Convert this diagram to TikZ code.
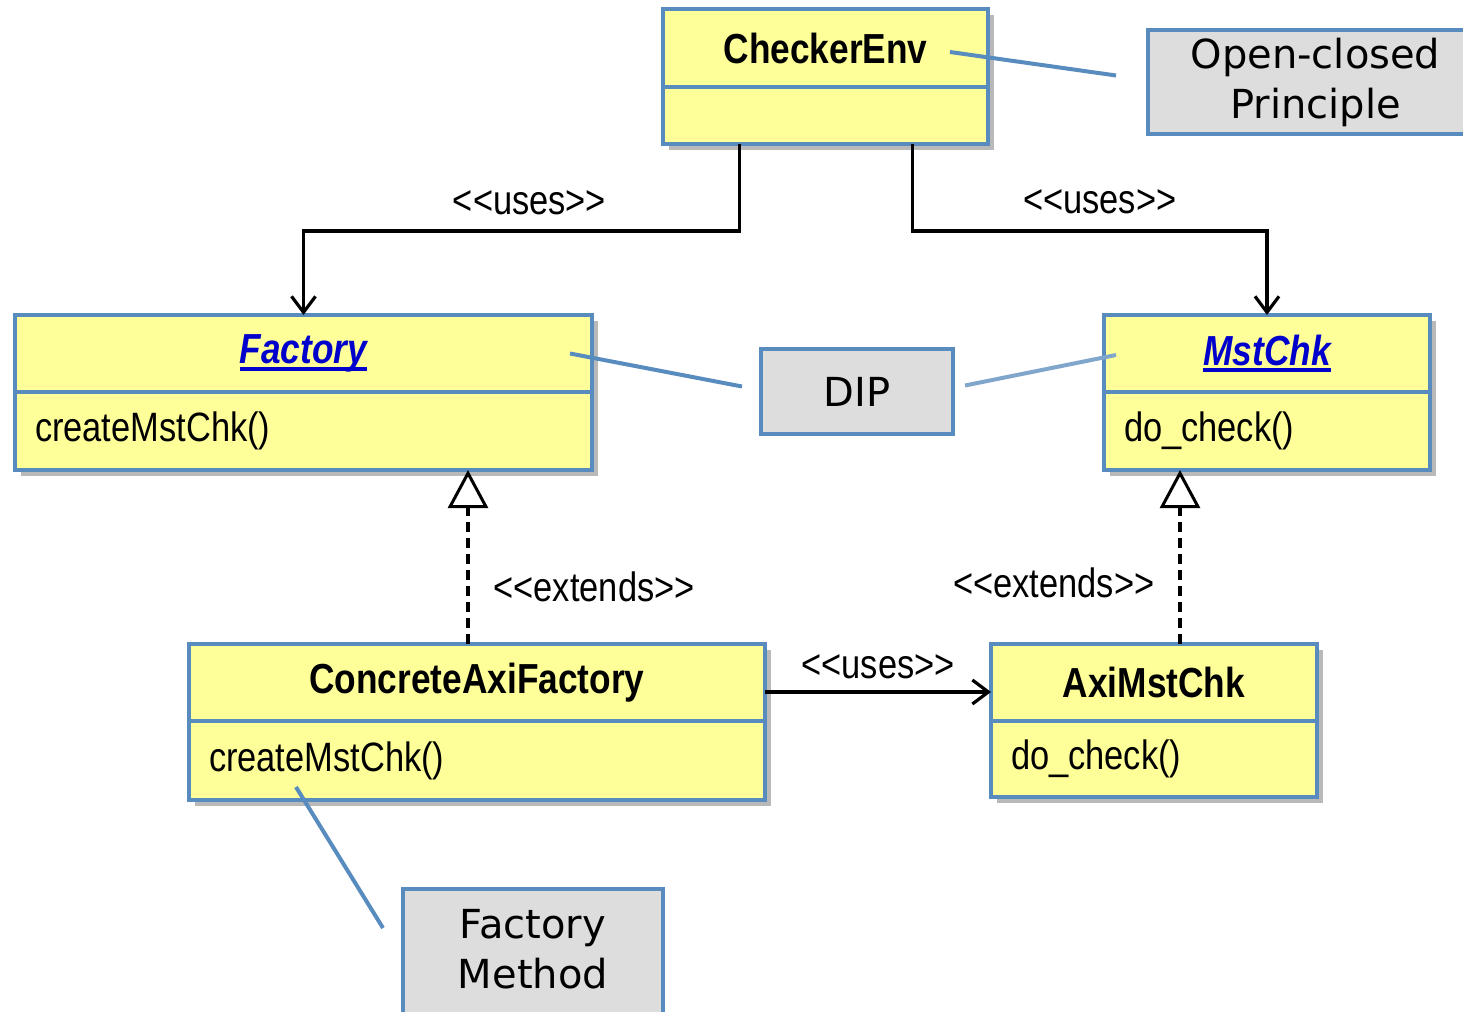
\documentclass[tikz,border=0pt]{standalone}
\usepackage{fontspec}
\setmainfont[FakeStretch=0.84]{Liberation Sans}
\newfontfamily\notefont{DejaVu Sans}
\usetikzlibrary{positioning,arrows.meta,shadows}
\definecolor{umlyellow}{RGB}{255,255,153}
\definecolor{umlborder}{RGB}{88,140,190}
\definecolor{notegray}{RGB}{221,221,221}
\definecolor{absblue}{RGB}{0,0,204}
\definecolor{diplink}{RGB}{128,166,204}
\newcommand{\absname}[1]{\textcolor{absblue}{\itshape\setbox0\hbox{#1}\rlap{\rule[-7pt]{\wd0}{4pt}}\box0}}
\newcommand{\stereo}[1]{<\kern0pt<#1>\kern0pt>}
\tikzstyle{classhead} = [rectangle, draw=umlborder, line width=4pt, fill=umlyellow,
    anchor=north west, inner sep=0pt, outer sep=0pt, font=\fontsize{42}{46}\selectfont\bfseries,
    drop shadow={shadow xshift=6pt, shadow yshift=-6pt, opacity=0.55}]
\tikzstyle{classbody} = [rectangle, draw=umlborder, line width=4pt, fill=umlyellow,
    inner xsep=20pt, inner ysep=0pt, outer sep=0pt, align=left, font=\fontsize{41}{45}\selectfont,
    drop shadow={shadow xshift=6pt, shadow yshift=-6pt, opacity=0.55}]
\tikzstyle{note} = [rectangle, draw=umlborder, line width=4pt, fill=notegray, anchor=north west,
    inner sep=0pt, align=center, font=\notefont\fontsize{40}{50}\selectfont]
\tikzstyle{uses} = [draw, line width=3.2pt, -{Straight Barb[length=16pt,width=24pt]}]
\tikzstyle{extends} = [draw, line width=3.2pt, dash pattern=on 10pt off 6pt,
    -{Triangle[open,length=38pt,width=40pt,line width=3pt]}]
\tikzstyle{link} = [draw=umlborder, line width=4pt]
\tikzstyle{label} = [font=\fontsize{41}{45}\selectfont, inner sep=4pt]

\begin{document}
\begin{tikzpicture}[x=1pt, y=-1pt]
    \useasboundingbox (0,0) rectangle (1463,1011);
    % Place nodes
    \node [classhead, minimum width=325pt, minimum height=78pt] (env) at (663,9) {CheckerEnv};
    \node [classbody, below=0pt of env, minimum height=57pt, text width=285pt] (env-ops) {};
    \node [classhead, minimum width=577pt, minimum height=77pt] (factory) at (15,315) {\absname{Factory}};
    \node [classbody, below=0pt of factory, minimum height=78pt, text width=537pt] (factory-ops) {createMstChk()};
    \node [classhead, minimum width=326pt, minimum height=77pt] (mstchk) at (1104,315) {\absname{MstChk}};
    \node [classbody, below=0pt of mstchk, minimum height=78pt, text width=286pt] (mstchk-ops) {do\_check()};
    \node [classhead, minimum width=576pt, minimum height=77pt] (concrete) at (189,644) {ConcreteAxiFactory};
    \node [classbody, below=0pt of concrete, minimum height=79pt, text width=536pt] (concrete-ops) {createMstChk()};
    \node [classhead, minimum width=326pt, minimum height=77pt] (axi) at (991,644) {AxiMstChk};
    \node [classbody, below=0pt of axi, minimum height=76pt, text width=286pt] (axi-ops) {do\_check()};
    % Notes
    \node [note, minimum width=335pt, minimum height=104pt] (ocp) at (1146,28) {Open-closed\\Principle};
    \node [note, minimum width=192pt, minimum height=85pt] (dip) at (759,347) {DIP};
    \node [note, minimum width=260pt, minimum height=140pt, text depth=20pt] (fm) at (401,887) {Factory\\Method};
    % Draw edges
    \path [uses] ([xshift=-86pt]env-ops.south) -- ++(0,87) -| node [label, above=10pt, xshift=8pt, pos=0.25] {\stereo{uses}} (factory.north);
    \path [uses] ([xshift=87pt]env-ops.south) -- ++(0,87) -| node [label, above=12pt, xshift=10pt, pos=0.25] {\stereo{uses}} (mstchk.north);
    \path [extends] ([xshift=-9pt]concrete.north) -- node [label, right=20pt, pos=0.33] {\stereo{extends}} ([xshift=164.5pt]factory-ops.south);
    \path [extends] ([xshift=26pt]axi.north) -- node [label, left=20pt, pos=0.35] {\stereo{extends}} ([xshift=-87pt]mstchk-ops.south);
    \path [uses] ([yshift=-9.5pt]concrete.east) -- node [label, above=8pt] {\stereo{uses}} ([yshift=-9.5pt]axi.west);
    % Note links
    \path [link] ([xshift=-38pt, yshift=-4pt]env.east) -- ([xshift=-30pt, yshift=6.5pt]ocp.west);
    \path [link] ([xshift=-22pt]factory.east) -- ([xshift=-17pt, yshift=5pt]dip.west);
    \path [link, draw=diplink] ([xshift=10pt, yshift=6pt]dip.east) -- ([xshift=12pt, yshift=-1.5pt]mstchk.west);
    \path [link] ([xshift=-181pt, yshift=13pt]concrete-ops.south) -- ([xshift=-18pt, yshift=31pt]fm.west);
\end{tikzpicture}
\end{document}
